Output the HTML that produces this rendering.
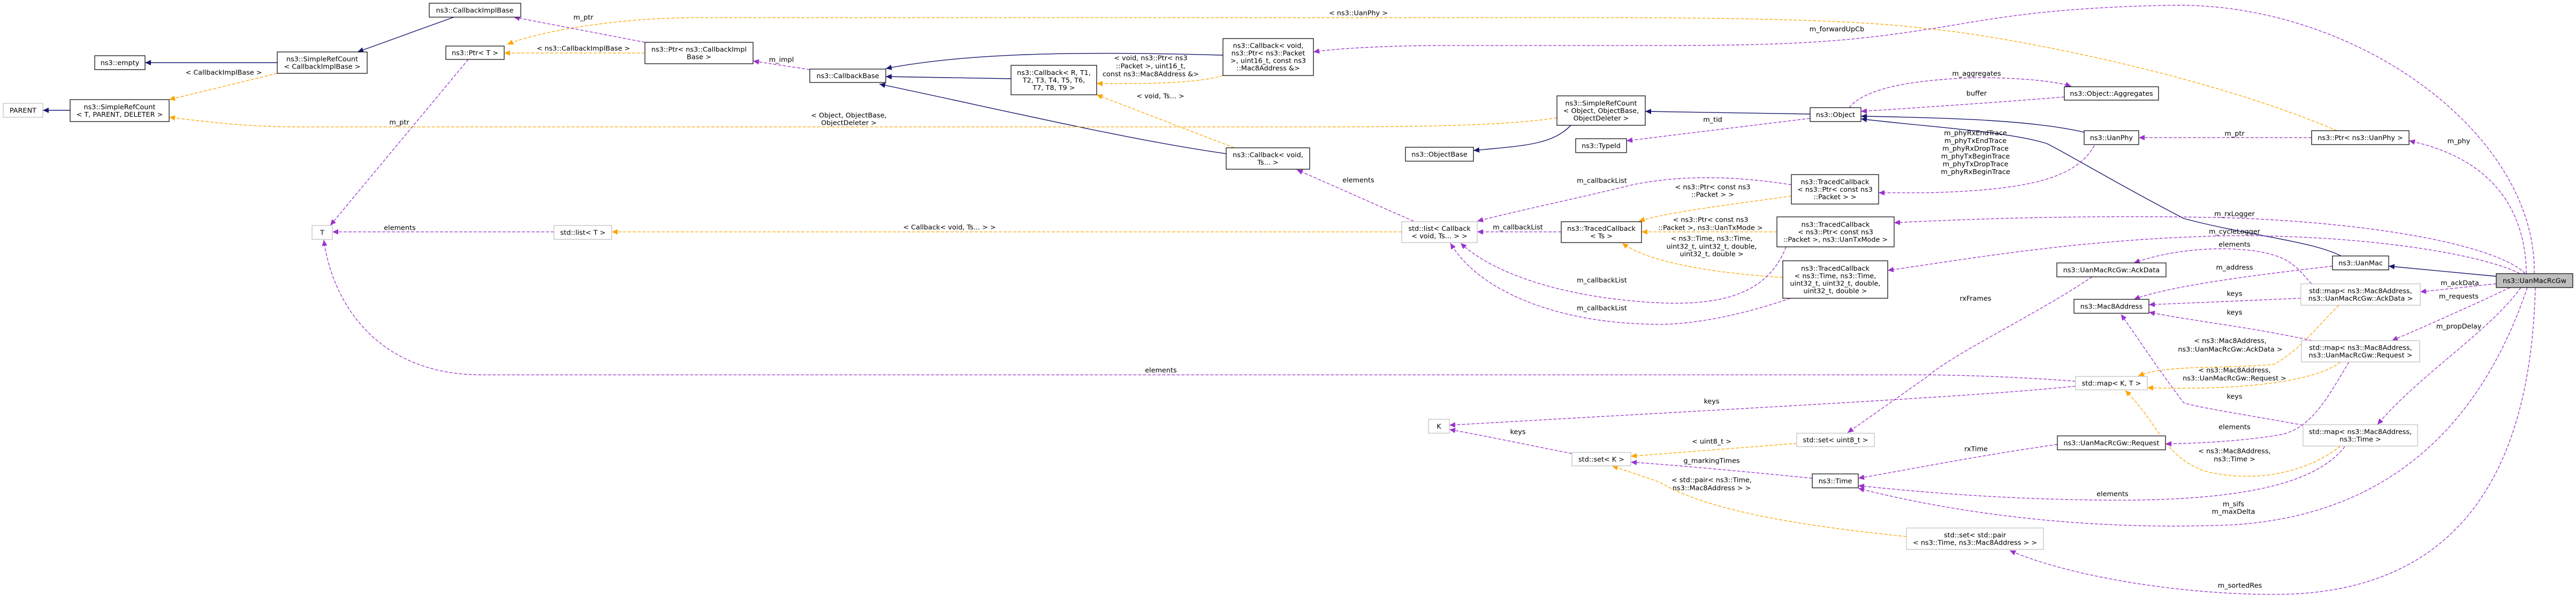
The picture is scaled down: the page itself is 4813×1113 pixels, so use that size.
<!DOCTYPE html>
<html><head><meta charset="utf-8">
<style>
html,body{margin:0;padding:0;background:#fff;}
svg{display:block;}
text{font-family:"DejaVu Sans","Liberation Sans",sans-serif;font-size:12.8px;fill:#000;text-anchor:middle;}
.n{fill:#fff;stroke:#000;stroke-width:1.2;}
.g{fill:#fff;stroke:#bfbfbf;stroke-width:1.2;}
.s{fill:#bfbfbf;stroke:#000;stroke-width:1.2;}
.nv{fill:none;stroke:#191970;stroke-width:1.4;marker-end:url(#an);}
.pu{fill:none;stroke:#9a32cd;stroke-width:1.3;stroke-dasharray:6,3;marker-end:url(#ap);}
.or{fill:none;stroke:#ffa500;stroke-width:1.3;stroke-dasharray:6,3;marker-end:url(#ao);}
</style></head><body>
<svg width="4813" height="1113" viewBox="0 0 4813 1113" xmlns="http://www.w3.org/2000/svg">
<defs>
<marker id="an" markerUnits="userSpaceOnUse" markerWidth="12" markerHeight="10" refX="11" refY="5" orient="auto"><path d="M0,0 L11,5 L0,10 z" fill="#191970"/></marker>
<marker id="ap" markerUnits="userSpaceOnUse" markerWidth="12" markerHeight="10" refX="11" refY="5" orient="auto"><path d="M0,0 L11,5 L0,10 z" fill="#9a32cd"/></marker>
<marker id="ao" markerUnits="userSpaceOnUse" markerWidth="12" markerHeight="10" refX="11" refY="5" orient="auto"><path d="M0,0 L11,5 L0,10 z" fill="#ffa500"/></marker>
</defs>

<!-- navy inheritance -->
<path class="nv" d="M848,32 L668,97"/>
<path class="nv" d="M518,117 L271,117"/>
<path class="nv" d="M131,206 L80,206"/>
<path class="nv" d="M2285,103 C2000,95 1800,100 1655,128"/>
<path class="nv" d="M1889,147 L1655,143"/>
<path class="nv" d="M2291,287 C2100,260 1850,200 1643,157"/>
<path class="nv" d="M3382,213 L3074,208"/>
<path class="nv" d="M2935,234 C2900,270 2850,272 2753,281"/>
<path class="nv" d="M3894,247 C3800,225 3650,220 3477,217"/>
<path class="nv" d="M4374,478 C4320,450 4200,440 4080,408 C3950,340 3850,280 3824,268 C3750,245 3600,237 3477,222"/>
<path class="nv" d="M4664,516 L4463,497"/>

<!-- orange template -->
<path class="or" d="M4366,244 C4100,130 3700,60 3594,53 C3500,40 3300,33 3000,33 L1300,33 C1150,33 1000,60 948,83"/>
<path class="or" d="M1205,99 L942,99"/>
<path class="or" d="M518,137 L316,186"/>
<path class="or" d="M2909,220 C2800,237 2600,237 2400,237 L560,237 C450,237 370,225 316,219"/>
<path class="or" d="M2285,141 C2240,155 2150,157 2049,156"/>
<path class="or" d="M2306,276 L2049,177"/>
<path class="or" d="M2619,433 L1143,433"/>
<path class="or" d="M3347,366 C3250,380 3120,395 3062,413"/>
<path class="or" d="M3320,433 L3067,433"/>
<path class="or" d="M3331,518 C3200,510 3080,490 3031,454"/>
<path class="or" d="M4370,570 C4320,620 4300,650 4250,680 C4150,690 4050,680 3995,702"/>
<path class="or" d="M4373,676 C4330,710 4200,730 4012,724"/>
<path class="or" d="M4373,833 C4300,890 4200,900 4120,880 C4040,850 4040,800 3971,729"/>
<path class="or" d="M3357,828 L3047,852"/>
<path class="or" d="M3562,1002 C3400,985 3200,960 3100,900 L3012,870"/>

<!-- purple usage -->
<path class="pu" d="M875,111 L617,421"/>
<path class="pu" d="M1205,79 L960,32"/>
<path class="pu" d="M1513,130 L1407,114"/>
<path class="pu" d="M1035,433 L621,433"/>
<path class="pu" d="M2641,413 L2423,317"/>
<path class="pu" d="M2917,433 L2760,433"/>
<path class="pu" d="M3347,345 C3250,330 3150,325 3050,345 C2950,370 2850,390 2760,413"/>
<path class="pu" d="M3337,461 C3310,530 3250,570 3112,566 C2950,560 2800,520 2729,454"/>
<path class="pu" d="M3345,557 C3250,590 3150,610 3073,605 C2900,600 2760,540 2710,454"/>
<path class="pu" d="M3382,221 L3039,263"/>
<path class="pu" d="M3455,201 C3480,170 3550,150 3690,145 C3780,145 3840,152 3870,161"/>
<path class="pu" d="M3857,181 C3750,190 3600,200 3477,208"/>
<path class="pu" d="M3913,272 C3880,330 3800,355 3600,360 L3510,360"/>
<path class="pu" d="M4319,257 L3996,257"/>
<path class="pu" d="M4720,511 C4720,420 4680,300 4501,263"/>
<path class="pu" d="M4735,511 C4740,250 4400,0 4049,10 C3800,15 3700,40 3600,55 C3450,78 3350,85 3100,85 L2700,85 C2600,85 2500,90 2454,97"/>
<path class="pu" d="M4718,511 C4680,470 4500,420 4175,407 C3900,400 3650,410 3539,416"/>
<path class="pu" d="M4708,511 C4650,480 4450,440 4175,440 C3900,445 3700,480 3527,505"/>
<path class="pu" d="M4664,530 L4522,545"/>
<path class="pu" d="M4690,537 C4620,570 4530,610 4469,636"/>
<path class="pu" d="M4710,537 C4650,620 4520,700 4442,793"/>
<path class="pu" d="M4722,537 C4650,750 4500,960 4172,980 C3950,990 3700,970 3472,912"/>
<path class="pu" d="M4737,537 C4730,800 4650,1110 4250,1110 C4050,1110 3850,1070 3755,1028"/>
<path class="pu" d="M4319,530 C4290,500 4280,470 4172,465 C4100,462 4030,475 3987,491"/>
<path class="pu" d="M4358,497 C4200,515 4050,535 3987,559"/>
<path class="pu" d="M4299,557 L4015,569"/>
<path class="pu" d="M4320,636 C4200,610 4100,600 4015,583"/>
<path class="pu" d="M4303,794 C4200,775 4100,760 4080,752 C4040,700 4000,640 3963,587"/>
<path class="pu" d="M4389,676 C4350,740 4320,800 4260,812 C4180,825 4100,828 4046,829"/>
<path class="pu" d="M4381,834 C4330,900 4200,935 3948,934 C3750,933 3600,920 3472,907"/>
<path class="pu" d="M3844,830 C3700,850 3550,880 3472,893"/>
<path class="pu" d="M3909,517 C3800,590 3650,660 3600,704 L3452,808"/>
<path class="pu" d="M3878,712 C3800,706 3700,701 3600,700 L900,700 C700,700 620,560 605,448"/>
<path class="pu" d="M3878,721 C3700,740 3300,760 2708,794"/>
<path class="pu" d="M2937,847 C2850,830 2780,815 2708,802"/>
<path class="pu" d="M3386,893 C3250,880 3150,870 3047,863"/>

<!-- nodes -->
<rect class="n" x="802" y="6" width="171" height="26"/><text x="887" y="23.5">ns3::CallbackImplBase</text>
<rect class="n" x="518" y="97" width="168" height="40"/><text x="602" y="114.5">ns3::SimpleRefCount</text><text x="602" y="128.5">&lt; CallbackImplBase &gt;</text>
<rect class="n" x="177" y="104" width="94" height="26"/><text x="224" y="121.5">ns3::empty</text>
<rect class="g" x="6" y="193" width="74" height="26"/><text x="43" y="210.5">PARENT</text>
<rect class="n" x="131" y="186" width="185" height="41"/><text x="223.5" y="204">ns3::SimpleRefCount</text><text x="223.5" y="218">&lt; T, PARENT, DELETER &gt;</text>
<rect class="n" x="833" y="86" width="109" height="25"/><text x="887.5" y="103">ns3::Ptr&lt; T &gt;</text>
<rect class="g" x="583" y="421" width="38" height="26"/><text x="602" y="438.5">T</text>
<rect class="g" x="1035" y="421" width="108" height="26"/><text x="1089" y="438.5">std::list&lt; T &gt;</text>
<rect class="n" x="1205" y="79" width="202" height="40"/><text x="1306" y="96.5">ns3::Ptr&lt; ns3::CallbackImpl</text><text x="1306" y="110.5">Base &gt;</text>
<rect class="n" x="1513" y="129" width="142" height="25"/><text x="1584" y="146">ns3::CallbackBase</text>
<rect class="n" x="1889" y="122" width="160" height="55"/><text x="1969" y="140">ns3::Callback&lt; R, T1,</text><text x="1969" y="154">T2, T3, T4, T5, T6,</text><text x="1969" y="168">T7, T8, T9 &gt;</text>
<rect class="n" x="2285" y="72" width="169" height="69"/><text x="2369.5" y="89.5">ns3::Callback&lt; void,</text><text x="2369.5" y="103.5">ns3::Ptr&lt; ns3::Packet</text><text x="2369.5" y="117.5">&gt;, uint16_t, const ns3</text><text x="2369.5" y="131.5">::Mac8Address &amp;&gt;</text>
<rect class="n" x="2291" y="276" width="156" height="40"/><text x="2369" y="293.5">ns3::Callback&lt; void,</text><text x="2369" y="307.5">Ts... &gt;</text>
<rect class="n" x="2909" y="179" width="165" height="55"/><text x="2991.5" y="197">ns3::SimpleRefCount</text><text x="2991.5" y="211">&lt; Object, ObjectBase,</text><text x="2991.5" y="225">ObjectDeleter &gt;</text>
<rect class="n" x="2626" y="275" width="127" height="26"/><text x="2689.5" y="292.5">ns3::ObjectBase</text>
<rect class="n" x="2944" y="259" width="95" height="26"/><text x="2991.5" y="276.5">ns3::TypeId</text>
<rect class="n" x="3382" y="201" width="95" height="26"/><text x="3429.5" y="218.5">ns3::Object</text>
<rect class="n" x="3347" y="326" width="163" height="55"/><text x="3428.5" y="344">ns3::TracedCallback</text><text x="3428.5" y="358">&lt; ns3::Ptr&lt; const ns3</text><text x="3428.5" y="372">::Packet &gt; &gt;</text>
<rect class="g" x="2619" y="414" width="141" height="39"/><text x="2689.5" y="431">std::list&lt; Callback</text><text x="2689.5" y="445">&lt; void, Ts... &gt; &gt;</text>
<rect class="n" x="2917" y="414" width="150" height="39"/><text x="2992" y="431">ns3::TracedCallback</text><text x="2992" y="445">&lt; Ts &gt;</text>
<rect class="n" x="3320" y="405" width="219" height="56"/><text x="3429.5" y="423.5">ns3::TracedCallback</text><text x="3429.5" y="437.5">&lt; ns3::Ptr&lt; const ns3</text><text x="3429.5" y="451.5">::Packet &gt;, ns3::UanTxMode &gt;</text>
<rect class="n" x="3331" y="487" width="196" height="70"/><text x="3429" y="505.5">ns3::TracedCallback</text><text x="3429" y="519.5">&lt; ns3::Time, ns3::Time,</text><text x="3429" y="533.5">uint32_t, uint32_t, double,</text><text x="3429" y="547.5">uint32_t, double &gt;</text>
<rect class="n" x="3857" y="162" width="176" height="25"/><text x="3945" y="179">ns3::Object::Aggregates</text>
<rect class="n" x="3894" y="244" width="102" height="26"/><text x="3945" y="261.5">ns3::UanPhy</text>
<rect class="n" x="4319" y="244" width="182" height="26"/><text x="4410" y="261.5">ns3::Ptr&lt; ns3::UanPhy &gt;</text>
<rect class="n" x="4358" y="478" width="105" height="26"/><text x="4410.5" y="495.5">ns3::UanMac</text>
<rect class="s" x="4664" y="511" width="143" height="26"/><text x="4735.5" y="528.5">ns3::UanMacRcGw</text>
<rect class="n" x="3843" y="491" width="204" height="26"/><text x="3945" y="508.5">ns3::UanMacRcGw::AckData</text>
<rect class="n" x="3875" y="559" width="140" height="26"/><text x="3945" y="576.5">ns3::Mac8Address</text>
<rect class="g" x="4299" y="530" width="223" height="40"/><text x="4410.5" y="547.5">std::map&lt; ns3::Mac8Address,</text><text x="4410.5" y="561.5">ns3::UanMacRcGw::AckData &gt;</text>
<rect class="g" x="4300" y="636" width="221" height="40"/><text x="4410.5" y="653.5">std::map&lt; ns3::Mac8Address,</text><text x="4410.5" y="667.5">ns3::UanMacRcGw::Request &gt;</text>
<rect class="g" x="3878" y="703" width="134" height="25"/><text x="3945" y="720">std::map&lt; K, T &gt;</text>
<rect class="n" x="3844" y="814" width="202" height="26"/><text x="3945" y="831.5">ns3::UanMacRcGw::Request</text>
<rect class="g" x="4303" y="793" width="214" height="40"/><text x="4410" y="810.5">std::map&lt; ns3::Mac8Address,</text><text x="4410" y="824.5">ns3::Time &gt;</text>
<rect class="g" x="3562" y="986" width="256" height="40"/><text x="3690" y="1003.5">std::set&lt; std::pair</text><text x="3690" y="1017.5">&lt; ns3::Time, ns3::Mac8Address &gt; &gt;</text>
<rect class="g" x="2669" y="783" width="39" height="26"/><text x="2688.5" y="800.5">K</text>
<rect class="g" x="2937" y="845" width="110" height="25"/><text x="2992" y="862">std::set&lt; K &gt;</text>
<rect class="g" x="3357" y="809" width="145" height="25"/><text x="3429.5" y="826">std::set&lt; uint8_t &gt;</text>
<rect class="n" x="3386" y="885" width="86" height="26"/><text x="3429" y="902.5">ns3::Time</text>

<!-- edge labels -->
<text x="1090" y="36.5">m_ptr</text>
<text x="746" y="232.5">m_ptr</text>
<text x="418" y="139.5">&lt; CallbackImplBase &gt;</text>
<text x="1090" y="94.5">&lt; ns3::CallbackImplBase &gt;</text>
<text x="747" y="429.5">elements</text>
<text x="2538" y="28.5">&lt; ns3::UanPhy &gt;</text>
<text x="1460" y="115.5">m_impl</text>
<text x="2150" y="112.5">&lt; void, ns3::Ptr&lt; ns3</text>
<text x="2150" y="127.5">::Packet &gt;, uint16_t,</text>
<text x="2150" y="142.5">const ns3::Mac8Address &amp;&gt;</text>
<text x="2168" y="183.5">&lt; void, Ts... &gt;</text>
<text x="1586" y="219.5">&lt; Object, ObjectBase,</text>
<text x="1586" y="233.5">ObjectDeleter &gt;</text>
<text x="1774" y="428.5">&lt; Callback&lt; void, Ts... &gt; &gt;</text>
<text x="2169" y="695.5">elements</text>
<text x="3200" y="227.5">m_tid</text>
<text x="3432" y="58.5">m_forwardUpCb</text>
<text x="2993" y="341.5">m_callbackList</text>
<text x="3200" y="353.5">&lt; ns3::Ptr&lt; const ns3</text>
<text x="3200" y="367.5">::Packet &gt; &gt;</text>
<text x="2538" y="340.5">elements</text>
<text x="2836" y="428.5">m_callbackList</text>
<text x="3196" y="414.5">&lt; ns3::Ptr&lt; const ns3</text>
<text x="3196" y="429.5">::Packet &gt;, ns3::UanTxMode &gt;</text>
<text x="3198" y="449.5">&lt; ns3::Time, ns3::Time,</text>
<text x="3198" y="464.5">uint32_t, uint32_t, double,</text>
<text x="3198" y="478.5">uint32_t, double &gt;</text>
<text x="2993" y="527.5">m_callbackList</text>
<text x="2993" y="579.5">m_callbackList</text>
<text x="3693" y="141.5">m_aggregates</text>
<text x="3693" y="178.5">buffer</text>
<text x="4175" y="253.5">m_ptr</text>
<text x="4594" y="267.5">m_phy</text>
<text x="3691" y="252.5">m_phyRxEndTrace</text>
<text x="3691" y="267">m_phyTxEndTrace</text>
<text x="3691" y="281.5">m_phyRxDropTrace</text>
<text x="3691" y="296">m_phyTxBeginTrace</text>
<text x="3691" y="310.5">m_phyTxDropTrace</text>
<text x="3691" y="325">m_phyRxBeginTrace</text>
<text x="4175" y="403.5">m_rxLogger</text>
<text x="4175" y="436.5">m_cycleLogger</text>
<text x="4175" y="460.5">elements</text>
<text x="4175" y="503.5">m_address</text>
<text x="4175" y="552.5">keys</text>
<text x="4175" y="587.5">keys</text>
<text x="4167" y="640.5">&lt; ns3::Mac8Address,</text>
<text x="4167" y="656.5">ns3::UanMacRcGw::AckData &gt;</text>
<text x="4175" y="695.5">&lt; ns3::Mac8Address,</text>
<text x="4175" y="710.5">ns3::UanMacRcGw::Request &gt;</text>
<text x="4175" y="744.5">keys</text>
<text x="4175" y="801.5">elements</text>
<text x="4175" y="846.5">&lt; ns3::Mac8Address,</text>
<text x="4175" y="861.5">ns3::Time &gt;</text>
<text x="3947" y="926.5">elements</text>
<text x="4173" y="945.5">m_sifs</text>
<text x="4173" y="959.5">m_maxDelta</text>
<text x="4185" y="1097.5">m_sortedRes</text>
<text x="3691" y="561.5">rxFrames</text>
<text x="3692" y="842.5">rxTime</text>
<text x="4596" y="532.5">m_ackData</text>
<text x="4594" y="557.5">m_requests</text>
<text x="4594" y="613.5">m_propDelay</text>
<text x="3198" y="753.5">keys</text>
<text x="2836" y="810.5">keys</text>
<text x="3198" y="828.5">&lt; uint8_t &gt;</text>
<text x="3198" y="864.5">g_markingTimes</text>
<text x="3198" y="900.5">&lt; std::pair&lt; ns3::Time,</text>
<text x="3198" y="915.5">ns3::Mac8Address &gt; &gt;</text>
</svg>
</body></html>
